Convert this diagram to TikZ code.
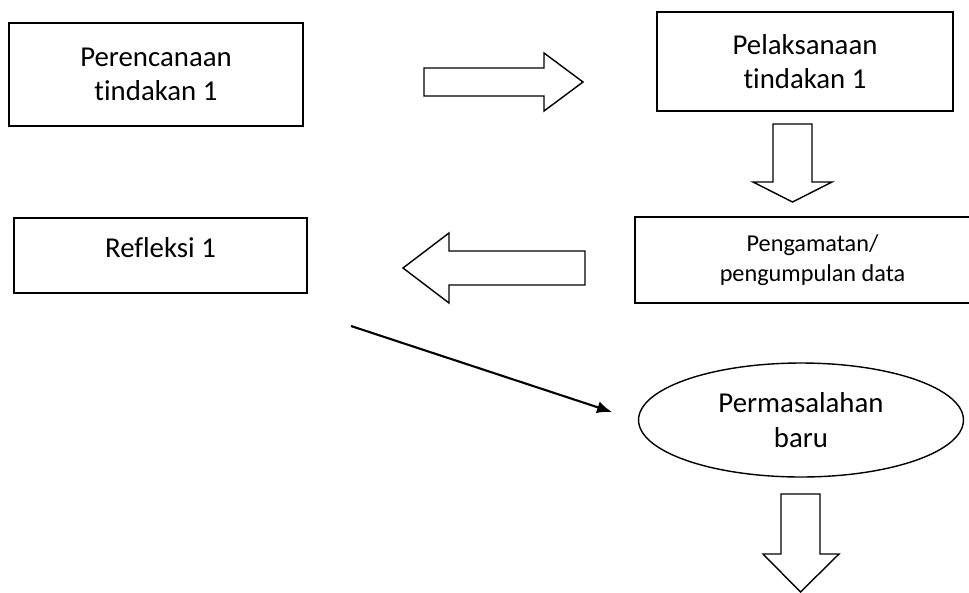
\documentclass[tikz,border=0pt]{standalone}
\usepackage{fontspec}
\setmainfont{Carlito}[Ligatures=NoCommon]
\usetikzlibrary{shapes.geometric,arrows.meta}

\begin{document}
\begin{tikzpicture}[x=0.02cm,y=-0.02cm,
	box/.style={draw, line width=0.8pt, align=center, inner sep=0pt,
		font=\fontsize{16.4}{19.6}\selectfont},
	blockarrow/.style={draw, line width=0.8pt, line join=miter}]
	\useasboundingbox (0,0) rectangle (969,592);
	%\draw[help lines] (0,0) grid[step=50] (969,592);
	\node[box, minimum width=5.88cm, minimum height=2.06cm] (rencana) at (156,74.5) {Perencanaan\\tindakan 1};
	\node[box, minimum width=5.92cm, minimum height=1.98cm] (laksana) at (805,61.5) {Pelaksanaan\\tindakan 1};
	\node[box, minimum width=7.1cm, minimum height=1.72cm, font=\fontsize{13.8}{17}\selectfont] (amati) at (812.5,260) {Pengamatan/\\pengumpulan data};
	\node[box, minimum width=5.86cm, minimum height=1.5cm, text height=10.5pt, text depth=8pt] (refleksi) at (160.5,255.5) {Refleksi 1};
	\node[box, ellipse, minimum width=6.5cm, minimum height=2.28cm] (masalah) at (801,420) {Permasalahan\\baru};
	% block arrows
	\draw[blockarrow] (424,68) -- (544,68) -- (544,53) -- (583,82) -- (544,111) -- (544,96) -- (424,96) -- cycle;
	\draw[blockarrow] (773,124) -- (812,124) -- (812,182) -- (832,182) -- (792.5,202) -- (753,182) -- (773,182) -- cycle;
	\draw[blockarrow] (585,251) -- (449,251) -- (449,233) -- (403,268) -- (449,303) -- (449,285) -- (585,285) -- cycle;
	\draw[blockarrow] (781,494) -- (820,494) -- (820,554) -- (839,554) -- (800.5,592) -- (763,554) -- (781,554) -- cycle;
	% line to the new problem
	\coordinate (refleksi-out) at (351,326);
	\coordinate (masalah-in) at (612,412);
	\draw[line width=1.2pt, -{Latex[length=8.5pt,width=7pt]}] (refleksi-out) -- (masalah-in);
\end{tikzpicture}
\end{document}
